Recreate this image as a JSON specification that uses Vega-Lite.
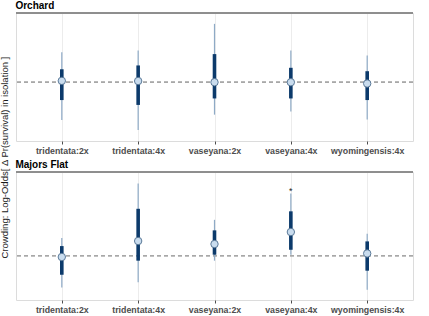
{
  "$schema": "https://vega.github.io/schema/vega-lite/v6.json",
  "padding": {"left": 0, "top": 0, "right": 4, "bottom": 0},
  "background": "white",
  "title": {
    "text": "Crowding: Log-Odds[ Δ Pr(survival) in isolation ]",
    "orient": "left",
    "anchor": "middle",
    "font": "Liberation Sans",
    "fontSize": 9.5,
    "fontWeight": "normal",
    "color": "#1a1a1a",
    "offset": 5
  },
  "datasets": {
    "est": [
      {"site": "Orchard", "cat": "tridentata:2x", "est": 0.17, "lo50": -2.2, "hi50": 1.6, "lo95": -4.65, "hi95": 3.7, "sig": ""},
      {"site": "Orchard", "cat": "tridentata:4x", "est": 0.15, "lo50": -2.8, "hi50": 2.07, "lo95": -5.9, "hi95": 3.9, "sig": ""},
      {"site": "Orchard", "cat": "vaseyana:2x", "est": 0.0, "lo50": -2.0, "hi50": 3.47, "lo95": -4.0, "hi95": 7.2, "sig": ""},
      {"site": "Orchard", "cat": "vaseyana:4x", "est": 0.0, "lo50": -2.0, "hi50": 1.78, "lo95": -3.6, "hi95": 3.9, "sig": ""},
      {"site": "Orchard", "cat": "wyomingensis:4x", "est": -0.16, "lo50": -2.2, "hi50": 1.36, "lo95": -4.6, "hi95": 3.3, "sig": ""},
      {"site": "Majors Flat", "cat": "tridentata:2x", "est": -0.1, "lo50": -1.5, "hi50": 0.76, "lo95": -2.5, "hi95": 1.4, "sig": ""},
      {"site": "Majors Flat", "cat": "tridentata:4x", "est": 1.16, "lo50": -0.39, "hi50": 3.7, "lo95": -2.1, "hi95": 5.7, "sig": ""},
      {"site": "Majors Flat", "cat": "vaseyana:2x", "est": 0.92, "lo50": 0.08, "hi50": 2.0, "lo95": -0.39, "hi95": 2.83, "sig": ""},
      {"site": "Majors Flat", "cat": "vaseyana:4x", "est": 1.87, "lo50": 0.47, "hi50": 3.5, "lo95": 0.08, "hi95": 4.9, "sig": "*"},
      {"site": "Majors Flat", "cat": "wyomingensis:4x", "est": 0.18, "lo50": -1.18, "hi50": 1.13, "lo95": -2.68, "hi95": 1.73, "sig": ""}
    ]
  },
  "spacing": 3,
  "vconcat": [
    {
      "width": 397,
      "height": 128,
      "title": {"text": "Orchard"},
      "data": {"name": "est"},
      "transform": [{"filter": "datum.site === 'Orchard'"}],
      "layer": [
        {
          "mark": {"type": "rule", "color": "#a8a8a8", "strokeDash": [4, 3], "strokeWidth": 1},
          "encoding": {"y": {"datum": 0, "type": "quantitative", "axis": null}}
        },
        {
          "mark": {"type": "rule", "color": "#8c8c8c", "strokeWidth": 1.2},
          "encoding": {"y": {"datum": 8.54, "type": "quantitative", "axis": null}}
        },
        {
          "mark": {"type": "rule", "color": "#8eaac6", "strokeWidth": 1.2},
          "encoding": {
            "x": {"field": "cat", "type": "nominal", "sort": null, "scale": {"type": "point", "padding": 0.6}, "axis": {"title": null}},
            "y": {"field": "lo95", "type": "quantitative", "scale": {"domain": [-7.25, 8.54], "nice": false, "zero": false},
              "axis": {"values": [-4, 0, 4, 8], "title": null, "labelOverlap": false, "labelBound": false, "gridColor": "#e6e6e6"}},
            "y2": {"field": "hi95"}
          }
        },
        {
          "mark": {"type": "rule", "color": "#0c3a6b", "strokeWidth": 3.6},
          "encoding": {
            "x": {"field": "cat", "type": "nominal", "sort": null},
            "y": {"field": "lo50", "type": "quantitative"},
            "y2": {"field": "hi50"}
          }
        },
        {
          "mark": {"type": "point", "shape": "circle", "filled": true, "fill": "#c9dcee", "stroke": "#4e6e8e", "strokeWidth": 0.9, "opacity": 1, "size": 55},
          "encoding": {
            "x": {"field": "cat", "type": "nominal", "sort": null},
            "y": {"field": "est", "type": "quantitative"}
          }
        }
      ]
    },
    {
      "width": 397,
      "height": 128,
      "title": {"text": "Majors Flat"},
      "data": {"name": "est"},
      "transform": [{"filter": "datum.site === 'Majors Flat'"}],
      "layer": [
        {
          "mark": {"type": "rule", "color": "#a8a8a8", "strokeDash": [4, 3], "strokeWidth": 1},
          "encoding": {"y": {"datum": 0, "type": "quantitative", "axis": null}}
        },
        {
          "mark": {"type": "rule", "color": "#8c8c8c", "strokeWidth": 1.2},
          "encoding": {"y": {"datum": 6.6, "type": "quantitative", "axis": null}}
        },
        {
          "mark": {"type": "rule", "color": "#8eaac6", "strokeWidth": 1.2},
          "encoding": {
            "x": {"field": "cat", "type": "nominal", "sort": null, "scale": {"type": "point", "padding": 0.6}, "axis": {"title": null}},
            "y": {"field": "lo95", "type": "quantitative", "scale": {"domain": [-3.49, 6.6], "nice": false, "zero": false},
              "axis": {"values": [-2, 0, 2, 4, 6], "title": null, "labelOverlap": false, "labelBound": false, "gridColor": "#e6e6e6"}},
            "y2": {"field": "hi95"}
          }
        },
        {
          "mark": {"type": "rule", "color": "#0c3a6b", "strokeWidth": 3.6},
          "encoding": {
            "x": {"field": "cat", "type": "nominal", "sort": null},
            "y": {"field": "lo50", "type": "quantitative"},
            "y2": {"field": "hi50"}
          }
        },
        {
          "mark": {"type": "point", "shape": "circle", "filled": true, "fill": "#c9dcee", "stroke": "#4e6e8e", "strokeWidth": 0.9, "opacity": 1, "size": 55},
          "encoding": {
            "x": {"field": "cat", "type": "nominal", "sort": null},
            "y": {"field": "est", "type": "quantitative"}
          }
        },
        {
          "transform": [{"filter": "datum.sig !== ''"}],
          "mark": {"type": "text", "font": "Liberation Sans", "fontSize": 9, "fill": "#222222", "baseline": "alphabetic", "dy": 0},
          "encoding": {
            "x": {"field": "cat", "type": "nominal", "sort": null},
            "y": {"field": "hi95", "type": "quantitative"},
            "text": {"field": "sig"}
          }
        }
      ]
    }
  ],
  "config": {
    "view": {"stroke": "#dcdcdc", "strokeWidth": 1},
    "title": {"font": "Liberation Sans", "fontSize": 10, "fontWeight": "bold", "color": "#000000", "anchor": "start", "offset": 1},
    "axis": {
      "labelFont": "Liberation Sans",
      "labelFontSize": 8.8,
      "labelFontWeight": "bold",
      "labelColor": "#4d4d4d",
      "tickColor": "#4d4d4d",
      "tickSize": 3,
      "labelPadding": 2,
      "labelOverlap": false,
      "domain": false,
      "gridWidth": 1
    },
    "axisY": {"labelOverlap": false, "labelBound": false, "labelFlush": false},
    "axisX": {"labelAngle": 0, "grid": true, "gridColor": "#ececec"}
  }
}
